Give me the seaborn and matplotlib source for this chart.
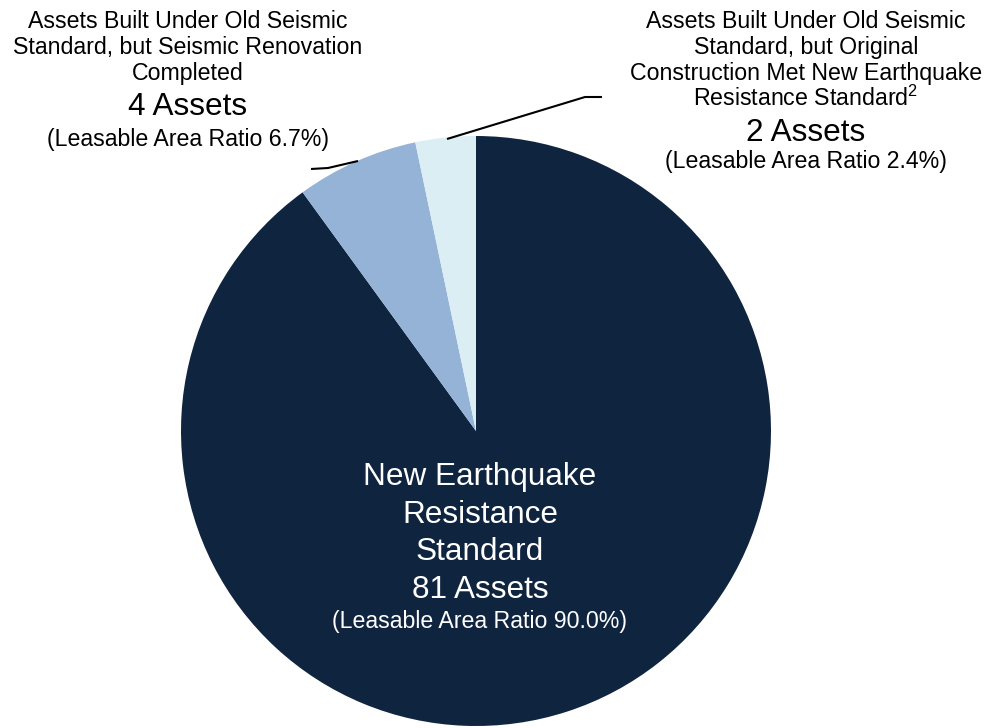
import matplotlib
matplotlib.use("Agg")
import matplotlib.pyplot as plt
import seaborn as sns

# ---- data ----
categories = [
    "New Earthquake Resistance Standard",
    "Assets Built Under Old Seismic Standard, but Seismic Renovation Completed",
    "Assets Built Under Old Seismic Standard, but Original Construction Met New Earthquake Resistance Standard",
]
slice_shares = [90.0, 6.7, 3.3]          # slice sizes as drawn in the picture
asset_counts = [81, 4, 2]
area_ratio_labels = ["90.0%", "6.7%", "2.4%"]
colors_hex = ["#0F243E", "#95B3D7", "#DAEEF3"]

sns.set_theme(style="white")
plt.rcParams["font.family"] = ["Liberation Sans", "DejaVu Sans"]
plt.rcParams["mathtext.fontset"] = "custom"
plt.rcParams["mathtext.rm"] = "Liberation Sans"
plt.rcParams["mathtext.it"] = "Liberation Sans:italic"
plt.rcParams["mathtext.bf"] = "Liberation Sans:bold"

W, H = 989, 728
fig = plt.figure(figsize=(W / 100, H / 100), dpi=100)
ax = fig.add_axes([0, 0, 1, 1])
ax.set_xlim(0, W)
ax.set_ylim(0, H)
ax.set_aspect("equal")
ax.axis("off")

palette = sns.color_palette(colors_hex)
cx, cy, r = 476, H - 431, 295
ax.pie(slice_shares, colors=palette, startangle=90, counterclock=False,
       center=(cx, cy), radius=r, frame=True,
       wedgeprops=dict(linewidth=0))
ax.set_xlim(0, W)
ax.set_ylim(0, H)
ax.axis("off")

def Y(p):
    return H - p

small = 16.7
big = 22.7

# center label (inside navy slice)
cxl = 480
center_lines = [("New Earthquake", big, 485), ("Resistance", big, 523),
                ("Standard", big, 560), (f"{asset_counts[0]} Assets", big, 598),
                (f"(Leasable Area Ratio {area_ratio_labels[0]})", small, 628)]
for txt, fs, yb in center_lines:
    ax.text(cxl, Y(yb), txt, color="white", fontsize=fs, ha="center", va="baseline")

# left label
lx = 188
left_lines = [("Assets Built Under Old Seismic", small, 28),
              ("Standard, but Seismic Renovation", small, 54),
              ("Completed", small, 80),
              (f"{asset_counts[1]} Assets", big, 115),
              (f"(Leasable Area Ratio {area_ratio_labels[1]})", small, 146)]
for txt, fs, yb in left_lines:
    ax.text(lx, Y(yb), txt, color="black", fontsize=fs, ha="center", va="baseline")

# right label
rx = 806
right_lines = [("Assets Built Under Old Seismic", small, 28),
               ("Standard, but Original", small, 54),
               ("Construction Met New Earthquake", small, 80),
               ("Resistance Standard$^{2}$", small, 106),
               (f"{asset_counts[2]} Assets", big, 141),
               (f"(Leasable Area Ratio {area_ratio_labels[2]})", small, 168)]
for txt, fs, yb in right_lines:
    ax.text(rx, Y(yb), txt, color="black", fontsize=fs, ha="center", va="baseline")

# leader lines
ax.plot([311, 328, 358], [Y(169), Y(168), Y(161)], color="black", lw=1.5,
        solid_capstyle="butt")
ax.plot([447, 585, 602], [Y(139), Y(97), Y(97)], color="black", lw=1.5,
        solid_capstyle="butt")

fig.savefig("out.png", dpi=100, facecolor="white")
